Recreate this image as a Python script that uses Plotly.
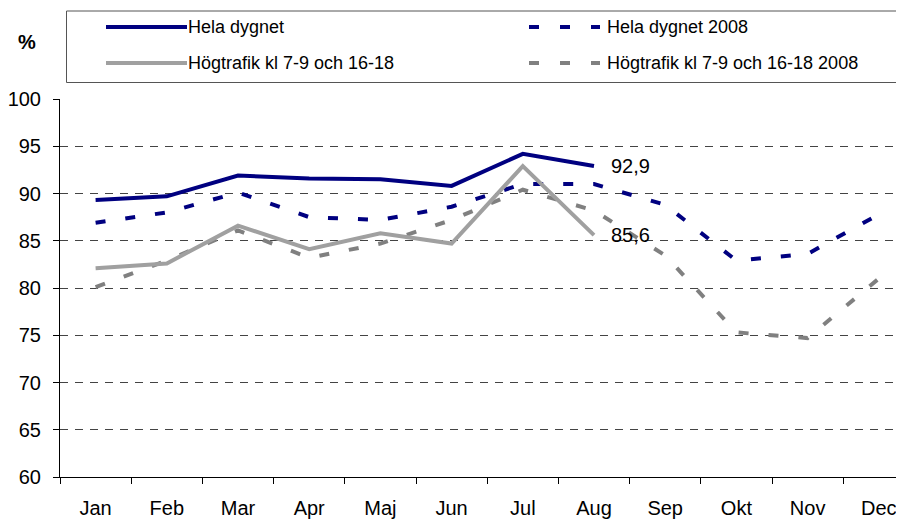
import plotly.graph_objects as go

months = ["Jan", "Feb", "Mar", "Apr", "Maj", "Jun", "Jul", "Aug", "Sep", "Okt", "Nov", "Dec"]

hela_dygnet = [89.3, 89.7, 91.9, 91.6, 91.5, 90.8, 94.2, 92.9]
hela_dygnet_2008 = [86.9, 88.0, 90.1, 87.5, 87.2, 88.6, 91.0, 91.0, 88.8, 82.9, 83.6, 87.8]
hogtrafik = [82.1, 82.6, 86.6, 84.1, 85.8, 84.7, 92.9, 85.6]
hogtrafik_2008 = [80.1, 82.9, 86.1, 83.2, 84.7, 87.2, 90.4, 88.2, 83.45, 75.3, 74.7, 81.0]

series_names = [
    "Hela dygnet",
    "Hela dygnet 2008",
    "Högtrafik kl 7-9 och 16-18",
    "Högtrafik kl 7-9 och 16-18 2008",
]

NAVY = "#000080"
GRAY = "#a0a0a0"
GRAY_DASH = "#808080"
FONT = "Liberation Sans, Arial, sans-serif"
DASH = "10px,20px"

# page body has an 8px margin, so lay out in screen pixels and shift back
OFF = 8
W, H = 904 - OFF, 519 - OFF
ML, MT = 60 - OFF, 99 - OFF
PW = 844
PH = 378
MR = W - ML - PW
MB = H - MT - PH


def px_x(px):
    return (px - OFF - ML) / PW


def px_y(py):
    return (H - MB - (py - OFF)) / PH


fig = go.Figure()

# dashed 2008 series first, current year on top
fig.add_trace(go.Scatter(x=months, y=hela_dygnet_2008, mode="lines", name=series_names[1],
                         line=dict(color=NAVY, width=4, dash=DASH)))
fig.add_trace(go.Scatter(x=months, y=hogtrafik_2008, mode="lines", name=series_names[3],
                         line=dict(color=GRAY_DASH, width=4, dash=DASH)))
fig.add_trace(go.Scatter(x=months[:len(hogtrafik)], y=hogtrafik, mode="lines", name=series_names[2],
                         line=dict(color=GRAY, width=4)))
fig.add_trace(go.Scatter(x=months[:len(hela_dygnet)], y=hela_dygnet, mode="lines", name=series_names[0],
                         line=dict(color=NAVY, width=4)))

# end labels
for vals in (hela_dygnet, hogtrafik):
    fig.add_annotation(x=months[len(vals) - 1], y=vals[-1], text=f"{vals[-1]:.1f}".replace(".", ","),
                       showarrow=False, xanchor="left", yanchor="middle", xshift=15,
                       font=dict(size=20, color="black", family=FONT))

# manual legend box
shapes = [dict(type="rect", xref="paper", yref="paper",
               x0=px_x(66.5), x1=px_x(912), y0=px_y(82.5), y1=px_y(11),
               line=dict(color="#555555", width=1), fillcolor="white", layer="above")]
legend_items = [
    (series_names[0], NAVY, "solid", 106, 187, 27, 188),
    (series_names[2], GRAY, "solid", 106, 187, 63, 188),
    (series_names[1], NAVY, "10px,21px", 529, 600, 27, 607),
    (series_names[3], GRAY_DASH, "10px,21px", 529, 600, 63, 607),
]
for name, color, dash, x0, x1, y, tx in legend_items:
    shapes.append(dict(type="line", xref="paper", yref="paper",
                       x0=px_x(x0), x1=px_x(x1), y0=px_y(y), y1=px_y(y),
                       line=dict(color=color, width=4, dash=dash), layer="above"))
    fig.add_annotation(xref="paper", yref="paper", x=px_x(tx), y=px_y(y), text=name,
                       showarrow=False, xanchor="left", yanchor="middle", xshift=-2,
                       font=dict(size=18, color="black", family=FONT))

fig.add_annotation(xref="paper", yref="paper", x=px_x(27), y=px_y(42), text="<b>%</b>",
                   showarrow=False, xanchor="center", yanchor="middle",
                   font=dict(size=20, color="black", family=FONT))

fig.update_layout(
    width=W,
    height=H,
    margin=dict(l=ML, r=MR, t=MT, b=MB, autoexpand=False),
    paper_bgcolor="white",
    plot_bgcolor="white",
    showlegend=False,
    shapes=shapes,
    font=dict(family=FONT, color="black"),
    xaxis=dict(
        type="category",
        automargin=False,
        range=[-0.5, -0.5 + PW / 71.2],
        showgrid=False,
        showline=True,
        linecolor="black",
        linewidth=1,
        ticks="outside",
        tickson="boundaries",
        ticklen=6,
        tickcolor="black",
        tickfont=dict(size=20, family=FONT, color="black"),
        ticklabelstandoff=13,
    ),
    yaxis=dict(
        automargin=False,
        range=[60, 100],
        dtick=5,
        showgrid=True,
        gridcolor="#444444",
        griddash="8px,7px",
        gridwidth=1,
        zeroline=False,
        showline=True,
        linecolor="black",
        linewidth=1,
        ticks="outside",
        ticklen=6,
        tickcolor="black",
        tickfont=dict(size=20, family=FONT, color="black"),
        ticklabelstandoff=8,
    ),
)

fig.write_html("out.html")
